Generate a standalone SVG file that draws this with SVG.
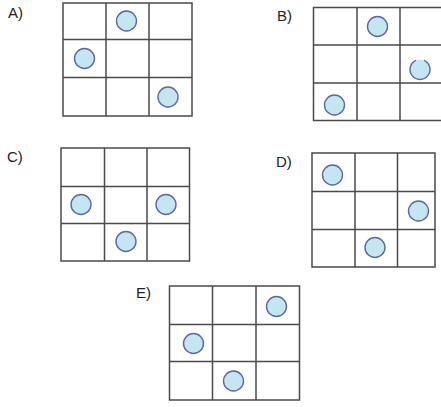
<svg xmlns="http://www.w3.org/2000/svg" width="441" height="407" viewBox="0 0 441 407">
<style>
.g{fill:none;stroke:#4a4a4a;stroke-width:1.5}
.c{fill:#c3e6f0;stroke:#5b67a6;stroke-width:1.4}
.t{font-family:"Liberation Sans",Arial,sans-serif;font-size:15px;fill:#222}
</style>
<rect width="441" height="407" fill="#fff"/>
<g id="optA">
<text class="t" x="8" y="18">A)</text>
<rect class="g" x="63" y="3" width="129" height="113"/>
<path class="g" d="M106 3V116M149 3V116M63 39.5H192M63 77.5H192"/>
<circle class="c" cx="126.5" cy="21" r="10"/>
<circle class="c" cx="84.5" cy="58.5" r="10"/>
<circle class="c" cx="168" cy="97" r="10"/>
</g>
<g id="optB">
<text class="t" x="277" y="21">B)</text>
<rect class="g" x="313.5" y="7.5" width="130" height="113"/>
<path class="g" d="M357 7.5V120.5M400 7.5V120.5M313.5 45H441M313.5 83H441"/>
<circle class="c" cx="377.5" cy="26.5" r="10"/>
<circle cx="420" cy="69.5" r="10" fill="#c3e6f0"/>
<path d="M416 60.3A10 10 0 1 0 424 60.3" fill="none" stroke="#5b67a6" stroke-width="1.4"/>
<circle class="c" cx="334.5" cy="105" r="10"/>
</g>
<g id="optC">
<text class="t" x="7" y="162">C)</text>
<rect class="g" x="61" y="148" width="128.5" height="113"/>
<path class="g" d="M104.5 148V261M147 148V261M61 186.5H189.5M61 223.5H189.5"/>
<circle class="c" cx="81" cy="204.5" r="10"/>
<circle class="c" cx="166" cy="204.5" r="10"/>
<circle class="c" cx="126" cy="241.5" r="10"/>
</g>
<g id="optD">
<text class="t" x="276" y="167">D)</text>
<rect class="g" x="312" y="153" width="123" height="114"/>
<path class="g" d="M355 153V267M397.5 153V267M312 191.5H435M312 229.5H435"/>
<circle class="c" cx="332.5" cy="175" r="10"/>
<circle class="c" cx="418.5" cy="211" r="10"/>
<circle class="c" cx="375" cy="247.5" r="10"/>
</g>
<g id="optE">
<text class="t" x="136" y="298">E)</text>
<rect class="g" x="169.5" y="286" width="130" height="114"/>
<path class="g" d="M212.5 286V400M256 286V400M169.5 324.5H299.5M169.5 361.5H299.5"/>
<circle class="c" cx="276.5" cy="306.5" r="10"/>
<circle class="c" cx="193.5" cy="343.5" r="10"/>
<circle class="c" cx="233.5" cy="381" r="10"/>
</g>
</svg>
